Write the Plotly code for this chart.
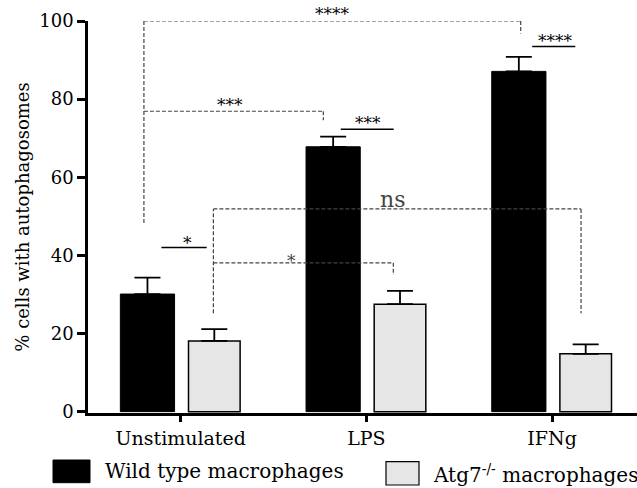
import plotly.graph_objects as go

categories = ["Unstimulated", "LPS", "IFNg"]
wt_values = [30.1, 67.8, 87.1]
wt_errors = [4.2, 2.6, 3.7]
ko_values = [18.1, 27.5, 14.8]
ko_errors = [3.0, 3.4, 2.4]
y_ticks = [0, 20, 40, 60, 80, 100]
wt_name = "Wild type macrophages"
ko_name = "Atg7<sup>-/-</sup> macrophages"

FONT = "DejaVu Serif"
W, H = 637, 488
ML, MR, MT, MB = 88, 0, 21, 75
PW, PH = W - ML - MR, H - MT - MB
YMIN = -0.35

xpos = list(range(len(categories)))

fig = go.Figure()
fig.add_trace(go.Bar(
    x=xpos, y=wt_values, width=0.292, offset=-0.325, base=0,
    marker=dict(color="black", line=dict(color="black", width=1)),
    error_y=dict(type="data", array=wt_errors, arrayminus=[0]*3, symmetric=False,
                 color="black", thickness=1.8, width=13),
    name=wt_name, showlegend=False))
fig.add_trace(go.Bar(
    x=xpos, y=ko_values, width=0.278, offset=0.042, base=0,
    marker=dict(color="#e6e6e6", line=dict(color="black", width=1.5)),
    error_y=dict(type="data", array=ko_errors, arrayminus=[0]*3, symmetric=False,
                 color="black", thickness=1.8, width=13),
    name=ko_name, showlegend=False))

shapes = []
annotations = []
DASH = dict(color="#444444", width=1.2, dash="4px,2px")
SOLID = dict(color="black", width=1.5)

dashed = [
    [(-0.198, 48.3), (-0.198, 100), (1.831, 100), (1.831, 96.8)],
    [(-0.198, 76.9), (0.768, 76.9), (0.768, 74.6)],
    [(0.176, 25.2), (0.176, 51.9), (2.156, 51.9), (2.156, 25.2)],
    [(0.176, 38.1), (1.145, 38.1), (1.145, 35.0)],
]
for pts in dashed:
    for (x0, y0), (x1, y1) in zip(pts[:-1], pts[1:]):
        shapes.append(dict(type="line", xref="x", yref="y", x0=x0, y0=y0, x1=x1, y1=y1,
                           line=DASH, layer="above"))
solid = [(-0.104, 0.140, 42.0), (0.862, 1.147, 72.3), (1.893, 2.125, 93.5)]
for x0, x1, y in solid:
    shapes.append(dict(type="line", xref="x", yref="y", x0=x0, y0=y, x1=x1, y1=y,
                       line=SOLID, layer="above"))

labels = [
    ("****", 0.820, 98.8, 17, "black"),
    ("***", 0.266, 75.4, 17, "black"),
    ("ns", 1.142, 50.6, 22, "#444444"),
    ("*", 0.594, 35.6, 17, "#444444"),
    ("*", 0.038, 40.0, 17, "black"),
    ("***", 1.010, 70.8, 17, "black"),
    ("****", 2.021, 91.8, 17, "black"),
]
for t, x, y, s, c in labels:
    annotations.append(dict(text=t, x=x, y=y, xref="x", yref="y", showarrow=False,
                            yanchor="bottom", xanchor="center",
                            font=dict(family=FONT, size=s, color=c)))

def px_x(p):
    return (p - ML) / PW

def px_y(p):
    return (H - MB - p) / PH

shapes.append(dict(type="rect", xref="paper", yref="paper",
                   x0=px_x(53), x1=px_x(90), y0=px_y(482.7), y1=px_y(460),
                   fillcolor="black", line=dict(color="black", width=1)))
shapes.append(dict(type="rect", xref="paper", yref="paper",
                   x0=px_x(386), x1=px_x(419), y0=px_y(485), y1=px_y(461.7),
                   fillcolor="#e6e6e6", line=dict(color="black", width=1.2)))
annotations.append(dict(text=wt_name, x=px_x(103), y=px_y(471), xref="paper", yref="paper",
                        showarrow=False, xanchor="left", yanchor="middle",
                        font=dict(family=FONT, size=20, color="black")))
annotations.append(dict(text=ko_name, x=px_x(431), y=px_y(474), xref="paper", yref="paper",
                        showarrow=False, xanchor="left", yanchor="middle",
                        font=dict(family=FONT, size=20, color="black")))

fig.update_layout(
    width=W, height=H,
    margin=dict(l=ML, r=MR, t=MT, b=MB),
    paper_bgcolor="white", plot_bgcolor="white",
    font=dict(family=FONT, size=18, color="black"),
    barmode="overlay",
    shapes=shapes, annotations=annotations,
    xaxis=dict(range=[-0.4992, 2.4573], tickvals=xpos, ticktext=categories,
               showline=True, linecolor="black", linewidth=2.5,
               ticks="outside", ticklen=6, tickwidth=2.5, tickcolor="black",
               showgrid=False, zeroline=False, fixedrange=True,
               tickfont=dict(family=FONT, size=19)),
    yaxis=dict(range=[YMIN, 100], tickvals=y_ticks,
               showline=True, linecolor="black", linewidth=2.5,
               ticks="outside", ticklen=8, tickwidth=2.5, tickcolor="black",
               showgrid=False, zeroline=False, fixedrange=True,
               tickfont=dict(family=FONT, size=18),
               title=dict(text="% cells with autophagosomes", standoff=5,
                          font=dict(family=FONT, size=18))),
)

fig.write_html("out.html")
